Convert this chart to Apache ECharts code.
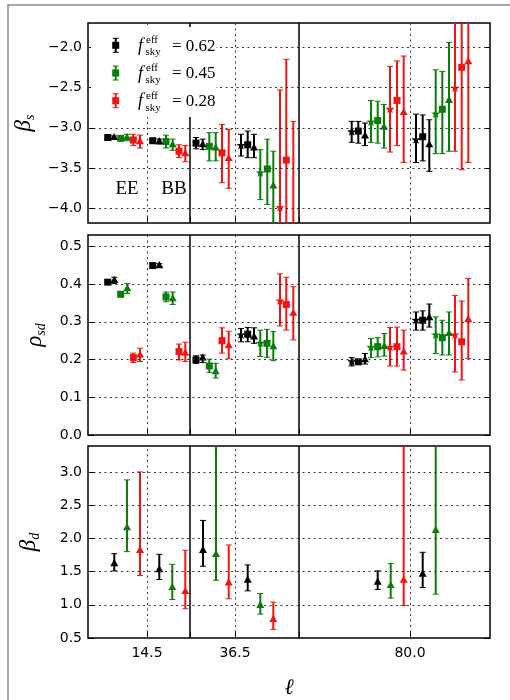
<!DOCTYPE html>
<html><head><meta charset="utf-8">
<script src="https://cdn.jsdelivr.net/npm/echarts@6/dist/echarts.min.js"></script>
<style>html,body{margin:0;padding:0;background:#fff}#c{width:510px;height:700px}</style>
</head><body><div id="c"></div>
<script>
// ---------------- data ----------------
// x positions are in plot units along the (binned) multipole axis
const ellTickPositions = [59, 147, 322];
const ellTickLabels = ['14.5', '36.5', '80.0'];
const binDividers = [102, 211];
const fskyLabels = ['0.62', '0.45', '0.28'];
const betaSTicks = [-4.0, -3.5, -3.0, -2.5, -2.0];
const rhoTicks = [0.0, 0.1, 0.2, 0.3, 0.4, 0.5];
const betaDTicks = [0.5, 1.0, 1.5, 2.0, 2.5, 3.0];
const betaSRange = [-4.18, -1.70];
const rhoRange = [0.0, 0.53];
const betaDRange = [0.5, 3.39];
const spectraLabels = ['EE', 'BB'];

// rows: [x, value, errLow, errHigh, fskyIndex]
const betaS_square = [
  [19.7, -3.12, -3.14, -3.10, 0], [32.7, -3.13, -3.16, -3.10, 1], [45.3, -3.15, -3.22, -3.08, 2],
  [64.7, -3.16, -3.19, -3.13, 0], [78.0, -3.17, -3.25, -3.09, 1], [91.0, -3.29, -3.37, -3.21, 2],
  [108.0, -3.19, -3.26, -3.12, 0], [121.3, -3.23, -3.41, -3.06, 1], [134.0, -3.31, -3.68, -2.96, 2],
  [159.7, -3.21, -3.37, -3.04, 0], [179.3, -3.51, -3.95, -3.14, 1], [198.3, -3.40, -5.50, -2.15, 2],
  [270.3, -3.04, -3.19, -2.92, 0], [289.7, -2.91, -3.19, -2.67, 1], [309.0, -2.66, -3.22, -2.17, 2],
  [334.7, -3.11, -3.41, -2.84, 0], [354.3, -2.77, -3.32, -2.30, 1], [373.7, -2.25, -3.52, -0.90, 2]
];
const betaS_triangle = [
  [26.0, -3.12, -3.14, -3.10, 0], [39.0, -3.12, -3.16, -3.08, 1], [52.0, -3.17, -3.25, -3.09, 2],
  [71.3, -3.17, -3.20, -3.14, 0], [84.7, -3.21, -3.28, -3.14, 1], [97.3, -3.32, -3.42, -3.22, 2],
  [114.7, -3.21, -3.27, -3.14, 0], [127.7, -3.25, -3.41, -3.06, 1], [140.7, -3.38, -3.75, -3.02, 2],
  [166.0, -3.25, -3.37, -3.08, 0], [185.3, -3.72, -4.40, -3.29, 1], [205.3, -4.45, -5.80, -2.92, 2],
  [277.0, -3.10, -3.22, -2.94, 0], [296.0, -2.99, -3.25, -2.71, 1], [315.7, -2.81, -3.43, -2.11, 2],
  [341.3, -3.21, -3.54, -2.90, 0], [361.0, -2.66, -3.29, -1.94, 1], [380.3, -2.18, -3.43, -0.90, 2]
];
const betaS_star = [
  [153.0, -3.22, -3.35, -3.08, 0], [172.3, -3.56, -3.89, -3.27, 1], [192.0, -3.99, -5.50, -2.53, 2],
  [263.7, -3.05, -3.18, -2.92, 0], [283.0, -2.93, -3.18, -2.66, 1], [302.0, -2.77, -3.30, -2.24, 2],
  [328.0, -3.15, -3.43, -2.83, 0], [347.7, -2.83, -3.32, -2.28, 1], [367.0, -2.51, -3.29, -1.30, 2]
];

const rho_square = [
  [19.7, 0.405, 0.399, 0.411, 0], [32.7, 0.373, 0.366, 0.380, 1], [45.3, 0.205, 0.192, 0.217, 2],
  [64.7, 0.449, 0.444, 0.454, 0], [78.0, 0.366, 0.353, 0.379, 1], [91.0, 0.221, 0.199, 0.241, 2],
  [108.0, 0.199, 0.190, 0.210, 0], [121.3, 0.183, 0.166, 0.201, 1], [134.0, 0.250, 0.217, 0.284, 2],
  [159.7, 0.267, 0.247, 0.285, 0], [179.0, 0.243, 0.206, 0.280, 1], [198.3, 0.346, 0.278, 0.418, 2],
  [270.3, 0.194, 0.188, 0.200, 0], [289.7, 0.234, 0.207, 0.258, 1], [309.0, 0.234, 0.183, 0.286, 2],
  [334.7, 0.304, 0.278, 0.329, 0], [354.3, 0.258, 0.212, 0.304, 1], [373.7, 0.247, 0.146, 0.355, 2]
];
const rho_triangle = [
  [26.3, 0.410, 0.401, 0.418, 0], [39.3, 0.388, 0.375, 0.401, 1], [52.0, 0.212, 0.195, 0.230, 2],
  [71.3, 0.449, 0.444, 0.454, 0], [84.7, 0.361, 0.346, 0.379, 1], [97.3, 0.217, 0.195, 0.246, 2],
  [114.7, 0.204, 0.192, 0.212, 0], [127.7, 0.168, 0.151, 0.190, 1], [140.7, 0.237, 0.202, 0.275, 2],
  [166.0, 0.260, 0.243, 0.284, 0], [185.3, 0.234, 0.197, 0.274, 1], [205.3, 0.323, 0.252, 0.393, 2],
  [277.0, 0.200, 0.188, 0.216, 0], [296.3, 0.235, 0.209, 0.269, 1], [315.7, 0.220, 0.172, 0.278, 2],
  [341.3, 0.311, 0.286, 0.347, 0], [361.0, 0.269, 0.212, 0.326, 1], [380.3, 0.306, 0.203, 0.415, 2]
];
const rho_star = [
  [153.0, 0.265, 0.247, 0.282, 0], [172.3, 0.243, 0.208, 0.278, 1], [192.0, 0.355, 0.289, 0.427, 2],
  [263.7, 0.194, 0.183, 0.205, 0], [283.0, 0.232, 0.205, 0.256, 1], [302.0, 0.232, 0.183, 0.285, 2],
  [328.0, 0.304, 0.278, 0.326, 0], [347.7, 0.265, 0.216, 0.313, 1], [367.0, 0.265, 0.167, 0.370, 2]
];

const betaD_triangle = [
  [26.3, 1.62, 1.51, 1.77, 0], [39.0, 2.16, 1.80, 2.88, 1], [52.0, 1.82, 1.44, 3.00, 2],
  [71.3, 1.53, 1.38, 1.76, 0], [84.3, 1.26, 1.08, 1.61, 1], [97.3, 1.20, 0.94, 1.82, 2],
  [115.0, 1.82, 1.58, 2.27, 0], [128.0, 1.76, 1.37, 3.60, 1], [140.7, 1.33, 1.09, 1.90, 2],
  [159.7, 1.37, 1.21, 1.60, 0], [172.3, 0.99, 0.86, 1.17, 1], [185.3, 0.78, 0.63, 1.04, 2],
  [289.7, 1.34, 1.23, 1.51, 0], [302.7, 1.29, 1.10, 1.62, 1], [315.7, 1.37, 0.99, 3.80, 2],
  [334.7, 1.46, 1.26, 1.79, 0], [347.7, 2.12, 1.16, 3.80, 1]
];

// ---------------- styling ----------------
const COLORS = ['#000000', '#0a7d0a', '#f01414'];
const SERIF = 'Liberation Serif';
const SANS = 'DejaVu Sans';

function markerEl(shape, p, c) {
  const x = p[0], y = p[1];
  if (shape === 'square') {
    return { type: 'rect', shape: { x: x - 3.5, y: y - 3.5, width: 7, height: 7 }, style: { fill: c } };
  }
  if (shape === 'triangle') {
    return { type: 'polygon', shape: { points: [[x, y - 4.6], [x - 4, y + 2.6], [x + 4, y + 2.6]] }, style: { fill: c } };
  }
  const pts = [];
  for (let k = 0; k < 10; k++) {
    const r = k % 2 === 0 ? 4.8 : 2.0;
    const a = -Math.PI / 2 + k * Math.PI / 5;
    pts.push([x + r * Math.cos(a), y + r * Math.sin(a)]);
  }
  return { type: 'polygon', shape: { points: pts }, style: { fill: c } };
}

function makeRender(shape) {
  return function (params, api) {
    const x = api.value(0), v = api.value(1), lo = api.value(2), hi = api.value(3), f = api.value(4);
    const c = COLORS[f];
    const p = api.coord([x, v]), a = api.coord([x, lo]), b = api.coord([x, hi]);
    return {
      type: 'group',
      children: [
        { type: 'line', shape: { x1: a[0], y1: a[1], x2: b[0], y2: b[1] }, style: { stroke: c, lineWidth: 2 } },
        { type: 'line', shape: { x1: a[0] - 3, y1: a[1], x2: a[0] + 3, y2: a[1] }, style: { stroke: c, lineWidth: 1 } },
        { type: 'line', shape: { x1: b[0] - 3, y1: b[1], x2: b[0] + 3, y2: b[1] }, style: { stroke: c, lineWidth: 1 } },
        markerEl(shape, p, c)
      ]
    };
  };
}

const grids = [
  { top: 23, ticks: betaSTicks, range: betaSRange, name: '{b|β}{s|s}', gap: 46 },
  { top: 235, ticks: rhoTicks, range: rhoRange, name: '{b|ρ}{s|sd}', gap: 40 },
  { top: 446, ticks: betaDTicks, range: betaDRange, name: '{b|β}{s|d}', gap: 46 }
];

const fmt = v => v.toFixed(1).replace('-', '\u2212');
const dotted = { color: '#333', width: 1, type: [2, 3.5] };

const option = {
  animation: false,
  backgroundColor: '#fff',
  grid: grids.map(g => ({ left: 88, top: g.top, width: 402, height: 200, show: true, borderColor: '#000', borderWidth: 1.5, backgroundColor: 'transparent' })),
  xAxis: grids.map((g, i) => ({
    gridIndex: i, type: 'value', min: 0, max: 402,
    axisLine: { show: false }, splitLine: { show: false },
    axisTick: { show: true, inside: true, length: 6, customValues: ellTickPositions.concat(binDividers), lineStyle: { color: '#000', width: 1 } },
    axisLabel: {
      show: i === 2, customValues: ellTickPositions, margin: 8,
      formatter: v => ellTickLabels[ellTickPositions.indexOf(v)] || '',
      fontFamily: SANS, fontSize: 14, color: '#000'
    },
    name: i === 2 ? '\u2113' : '', nameLocation: 'middle', nameGap: 39,
    nameTextStyle: { fontFamily: SERIF, fontStyle: 'italic', fontSize: 22, color: '#000' }
  })),
  yAxis: grids.map((g, i) => ({
    gridIndex: i, type: 'value', min: g.range[0], max: g.range[1], position: 'left',
    axisLine: { show: false }, splitLine: { show: false },
    axisTick: { show: true, inside: true, length: 6, customValues: g.ticks, lineStyle: { color: '#000', width: 1 } },
    axisLabel: { customValues: g.ticks, formatter: fmt, margin: 6, fontFamily: SANS, fontSize: 14, color: '#000' },
    name: g.name, nameLocation: 'middle', nameRotate: 90, nameGap: g.gap,
    nameTextStyle: {
      color: '#000',
      rich: {
        b: { fontFamily: SERIF, fontStyle: 'italic', fontSize: 23, color: '#000', lineHeight: 26 },
        s: { fontFamily: SERIF, fontStyle: 'italic', fontSize: 14, color: '#000', verticalAlign: 'bottom', lineHeight: 26, padding: [10, 0, 0, 0] }
      }
    }
  })).concat(grids.map((g, i) => ({
    gridIndex: i, type: 'value', min: g.range[0], max: g.range[1], position: 'right',
    axisLine: { show: false }, splitLine: { show: false }, axisLabel: { show: false },
    axisTick: { show: true, inside: true, length: 6, customValues: g.ticks, lineStyle: { color: '#000', width: 1 } }
  }))),
  series: []
};

// grid lines & bin dividers
grids.forEach((g, i) => {
  const lines = [];
  g.ticks.filter(v => v > g.range[0] + 1e-9 && v < g.range[1] - 1e-9)
    .forEach(v => lines.push({ yAxis: v, lineStyle: dotted }));
  ellTickPositions.forEach(v => lines.push({ xAxis: v, lineStyle: dotted }));
  binDividers.forEach(v => lines.push({ xAxis: v, lineStyle: { color: '#000', width: 1.5, type: 'solid' } }));
  option.series.push({
    type: 'scatter', xAxisIndex: i, yAxisIndex: i, data: [], silent: true, z: 1,
    markLine: { silent: true, symbol: ['none', 'none'], label: { show: false }, animation: false, data: lines }
  });
});

const dataSets = [
  [0, 'square', betaS_square], [0, 'triangle', betaS_triangle], [0, 'star', betaS_star],
  [1, 'square', rho_square], [1, 'triangle', rho_triangle], [1, 'star', rho_star],
  [2, 'triangle', betaD_triangle]
];
dataSets.forEach(([gi, shape, rows]) => {
  option.series.push({
    type: 'custom', xAxisIndex: gi, yAxisIndex: gi, clip: true, z: 3,
    renderItem: makeRender(shape), data: rows
  });
});

// legend (f_sky^eff) and spectrum labels
const gfx = [
  { type: 'rect', shape: { x: 8, y: 5, width: 520, height: 720 }, style: { fill: 'none', stroke: '#8a8a8a', lineWidth: 1.5 }, z: 0 },
  { type: 'rect', shape: { x: 91, y: 27, width: 125, height: 90 }, style: { fill: '#fff' }, z: 50 }
];
fskyLabels.forEach((lab, i) => {
  const cy = 45.3 + i * 27.7, cx = 115.7, c = COLORS[i];
  gfx.push({ type: 'line', shape: { x1: cx, y1: cy - 7, x2: cx, y2: cy + 7 }, style: { stroke: c, lineWidth: 2 }, z: 60 });
  gfx.push({ type: 'line', shape: { x1: cx - 3, y1: cy - 7, x2: cx + 3, y2: cy - 7 }, style: { stroke: c, lineWidth: 1 }, z: 60 });
  gfx.push({ type: 'line', shape: { x1: cx - 3, y1: cy + 7, x2: cx + 3, y2: cy + 7 }, style: { stroke: c, lineWidth: 1 }, z: 60 });
  gfx.push({ type: 'rect', shape: { x: cx - 3.5, y: cy - 3.5, width: 7, height: 7 }, style: { fill: c }, z: 60 });
  gfx.push({ type: 'text', x: 138, y: cy + 1, style: { text: 'f', font: 'italic 18px "Liberation Serif"', fill: '#000', verticalAlign: 'middle', align: 'left' }, z: 60 });
  gfx.push({ type: 'text', x: 146, y: cy - 5, style: { text: 'eff', font: '11px "Liberation Serif"', fill: '#000', verticalAlign: 'middle', align: 'left' }, z: 60 });
  gfx.push({ type: 'text', x: 145.5, y: cy + 7, style: { text: 'sky', font: '11px "Liberation Serif"', fill: '#000', verticalAlign: 'middle', align: 'left' }, z: 60 });
  gfx.push({ type: 'text', x: 172, y: cy + 1, style: { text: '= ' + lab, font: '17px "Liberation Serif"', fill: '#000', verticalAlign: 'middle', align: 'left' }, z: 60 });
});
gfx.push({ type: 'text', x: 127, y: 189, style: { text: spectraLabels[0], font: '19px "Liberation Serif"', fill: '#000', align: 'center', verticalAlign: 'middle' }, z: 60 });
gfx.push({ type: 'text', x: 174, y: 189, style: { text: spectraLabels[1], font: '19px "Liberation Serif"', fill: '#000', align: 'center', verticalAlign: 'middle' }, z: 60 });
option.graphic = { elements: gfx };

const chart = echarts.init(document.getElementById('c'), null, { renderer: 'canvas' });
chart.setOption(option);
</script>
</body></html>
